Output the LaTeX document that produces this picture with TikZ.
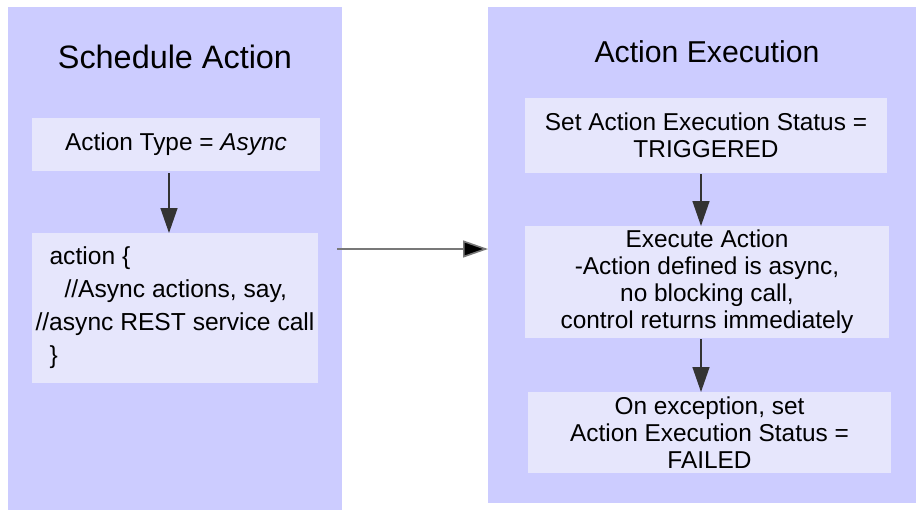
\documentclass[tikz,border=0pt]{standalone}
\usepackage{fontspec}
\setmainfont{Liberation Sans}
\usetikzlibrary{arrows.meta,calc}
\definecolor{panelc}{RGB}{204,204,255}
\definecolor{boxc}{RGB}{230,230,252}
\definecolor{linec}{RGB}{120,120,120}
\begin{document}
\begin{tikzpicture}[x=0.5pt,y=-0.5pt,
  panel/.style={fill=panelc,draw=none,inner sep=0pt,outer sep=0pt},
  stepbox/.style={fill=boxc,draw=none,inner sep=0pt,outer sep=0pt,align=center,
    font=\fontsize{12.2}{13.5}\selectfont},
  titlel/.style={inner sep=0pt,font=\fontsize{16.2}{18}\selectfont},
  titler/.style={inner sep=0pt,font=\fontsize{15.1}{18}\selectfont},
  arr/.style={-{Triangle[length=12.5pt,width=8.5pt]},line width=0.7pt,draw=black!80}]
\useasboundingbox (0,0) rectangle (916,510);
\fill[white] (0,0) rectangle (916,510);
% panels
\node[panel,minimum width=167pt,minimum height=251.5pt] (lp) at (175,258.5) {};
\node[panel,minimum width=214pt,minimum height=248pt] (rp) at (702,255) {};
% titles
\node[titlel] (tl) at (175,57) {Schedule Action};
\node[titler] (tr) at (707,52) {Action Execution};
% left boxes
\node[stepbox,minimum width=144pt,minimum height=26.5pt] (b1) at (176,144.5) {Action Type = \textit{Async}};
\node[stepbox,align=left,minimum width=143pt,minimum height=75pt,
  font=\fontsize{12.3}{16.5}\selectfont] (b2) at (175,308)
  {\hspace*{7pt}action \{\\\hspace*{14.5pt}//Async actions, say,\\//async REST service call\\\hspace*{7pt}\}};
% right boxes
\node[stepbox,minimum width=181pt,minimum height=37.5pt] (ba) at (706,135.5)
  {Set Action Execution Status =\\TRIGGERED};
\node[stepbox,minimum width=182pt,minimum height=56pt] (bb) at (707,282)
  {Execute Action\\-Action defined is async,\\no blocking call,\\control returns immediately};
\node[stepbox,minimum width=181.5pt,minimum height=40.5pt] (bc) at (709.5,432.5)
  {On exception, set\\Action Execution Status =\\FAILED};
% arrows
\draw[arr] ([xshift=-3.5pt,yshift=-1pt]b1.south) -- ([xshift=-3.5pt]b1.south |- b2.north);
\draw[arr] ([xshift=-2.5pt,yshift=-0.5pt]ba.south) -- ([xshift=-2.5pt]ba.south |- bb.north);
\draw[arr] ([xshift=-3pt,yshift=-0.5pt]bb.south) -- ([xshift=-3pt]bb.south |- bc.north);
\coordinate (h1) at (337,249);
\draw[-{Triangle[length=12.5pt,width=8.5pt,fill=black]},line width=0.8pt,draw=linec] (h1) -- (h1 -| rp.west);
\end{tikzpicture}
\end{document}
